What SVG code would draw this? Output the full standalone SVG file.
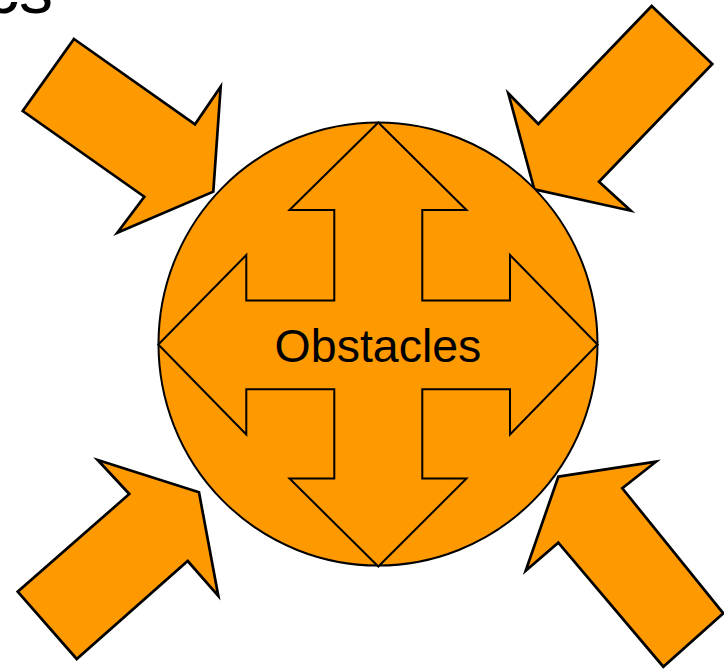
<svg xmlns="http://www.w3.org/2000/svg" width="724" height="669" viewBox="0 0 724 669">
<style>
.shape{fill:#FF9900;stroke:#000;stroke-width:2;stroke-linejoin:miter}
.outer{stroke-width:2.7}
.lbl{font-family:"Liberation Sans",Arial,sans-serif;fill:#000}
</style>
<rect width="724" height="669" fill="#fff"/>
<text class="lbl" x="-15" y="12.5" font-size="68">cs</text>
<g id="arrow-top-left"><path class="shape outer" d="M74,39 L195,124.3 L220.7,86.7 L213.3,191.7 L117.3,232.7 L144.3,196.7 L22.7,111 Z"/></g>
<g id="arrow-top-right"><path class="shape outer" d="M651.7,6 L712.3,64 L599,181.7 L630.7,210.7 L534.3,189.3 L508.3,93.3 L538.3,124 Z"/></g>
<g id="arrow-bottom-left"><path class="shape outer" d="M97.7,460 L199,492.3 L218.3,596 L187.7,561 L76.7,659 L17.7,591.7 L129.3,494 Z"/></g>
<g id="arrow-bottom-right"><path class="shape outer" d="M558.3,476.7 L656,461.7 L622.3,488.3 L723.3,613.3 L663.3,666.7 L558.3,542.7 L525.7,570.7 Z"/></g>
<g id="obstacles">
<ellipse class="shape" cx="378" cy="344" rx="219.5" ry="221.5"/>
<path class="shape" d="M378.3,122.5 L466.5,210 L422.3,210 L422.3,300.5 L510,300.5 L510,255 L597.5,344.5 L510,434.5 L510,389.3 L422.3,389.3 L422.3,478.5 L466.5,478.5 L378.3,566.5 L289.5,478.5 L334.3,478.5 L334.3,389.3 L246.3,389.3 L246.3,434.5 L158.3,344.5 L246.3,255 L246.3,300.5 L334.3,300.5 L334.3,210 L289.5,210 Z"/>
<text class="lbl" x="378" y="362.3" font-size="46.5" text-anchor="middle">Obstacles</text>
</g>
</svg>
